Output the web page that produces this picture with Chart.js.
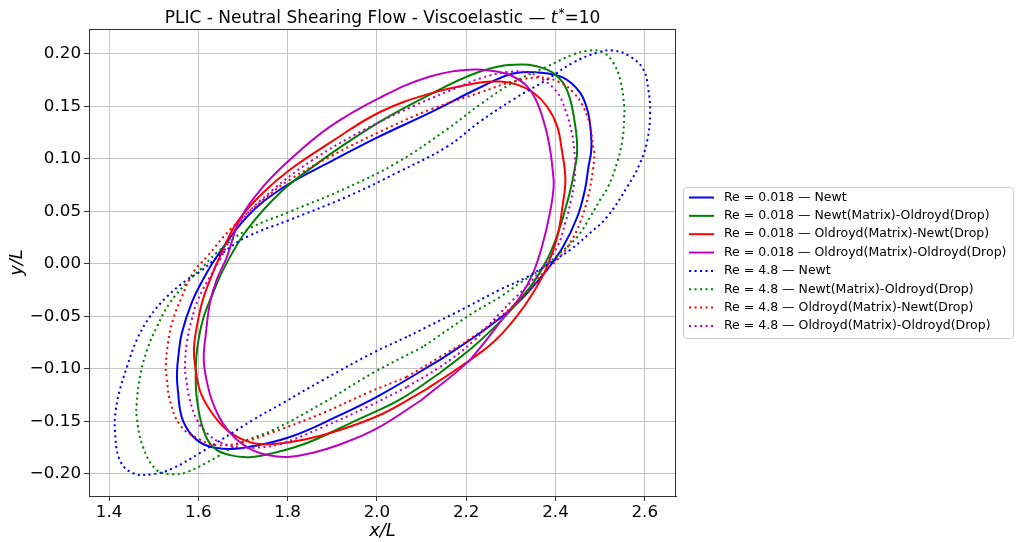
<!DOCTYPE html>
<html lang="en">
<head>
  <meta charset="UTF-8">
  <title>PLIC - Neutral Shearing Flow - Viscoelastic</title>
  <script src="https://cdn.jsdelivr.net/npm/chart.js"></script>
  <style>
    body { margin: 0; background: #fff; }
    #wrap { width: 1019px; height: 542px; }
  </style>
</head>
<body>
<div id="wrap"><canvas id="chart" width="1019" height="542"></canvas></div>

<script>
  // Axis ticks
  const xTicks = [1.4, 1.6, 1.8, 2.0, 2.2, 2.4, 2.6];
  const xTickLabels = ["1.4", "1.6", "1.8", "2.0", "2.2", "2.4", "2.6"];
  const yTicks = [-0.20, -0.15, -0.10, -0.05, 0.00, 0.05, 0.10, 0.15, 0.20];
  const yTickLabels = ["\u22120.20", "\u22120.15", "\u22120.10", "\u22120.05", "0.00", "0.05", "0.10", "0.15", "0.20"];

  const seriesLabels = [
    "Re = 0.018 \u2014 Newt",
    "Re = 0.018 \u2014 Newt(Matrix)-Oldroyd(Drop)",
    "Re = 0.018 \u2014 Oldroyd(Matrix)-Newt(Drop)",
    "Re = 0.018 \u2014 Oldroyd(Matrix)-Oldroyd(Drop)",
    "Re = 4.8 \u2014 Newt",
    "Re = 4.8 \u2014 Newt(Matrix)-Oldroyd(Drop)",
    "Re = 4.8 \u2014 Oldroyd(Matrix)-Newt(Drop)",
    "Re = 4.8 \u2014 Oldroyd(Matrix)-Oldroyd(Drop)"
  ];

  // Interface contours [x/L, y/L]
  const re018Newt = [
    [2.480, 0.121], [2.480, 0.107], [2.474, 0.0925], [2.466, 0.0705], [2.449, 0.0448],
    [2.417, 0.0162], [2.381, -0.0057], [2.337, -0.0276], [2.298, -0.0439], [2.231, -0.0658],
    [2.141, -0.0915], [2.007, -0.1249], [1.917, -0.144], [1.805, -0.1649], [1.709, -0.1745],
    [1.641, -0.1754], [1.597, -0.1678], [1.565, -0.1487], [1.554, -0.1201], [1.552, -0.1039],
    [1.556, -0.085], [1.563, -0.0658], [1.585, -0.0372], [1.610, -0.0153], [1.641, 0.0067],
    [1.709, 0.0448], [1.789, 0.0724], [1.895, 0.097], [2.000, 0.1201], [2.119, 0.1439],
    [2.231, 0.1678], [2.305, 0.1811], [2.361, 0.1821], [2.417, 0.1773], [2.455, 0.163],
    [2.473, 0.1439]
  ];
  const re018NewtOld = [
    [2.448, 0.118], [2.448, 0.103], [2.444, 0.0925], [2.436, 0.075], [2.426, 0.0582],
    [2.406, 0.0296], [2.381, 0.0038], [2.350, -0.0181], [2.314, -0.0372], [2.276, -0.055],
    [2.215, -0.0791], [2.141, -0.1039], [2.052, -0.129], [1.955, -0.1487], [1.843, -0.1706],
    [1.767, -0.1802], [1.715, -0.184], [1.671, -0.1821], [1.633, -0.1745], [1.610, -0.1563],
    [1.597, -0.1296], [1.594, -0.1077], [1.597, -0.082], [1.610, -0.0534], [1.633, -0.0276],
    [1.659, -0.0029], [1.709, 0.0324], [1.783, 0.0677], [1.857, 0.0925], [1.933, 0.1153],
    [2.007, 0.1354], [2.097, 0.1563], [2.231, 0.183], [2.321, 0.1897], [2.381, 0.1849],
    [2.415, 0.1735], [2.433, 0.1563], [2.443, 0.135]
  ];
  const re018OldNewt = [
    [2.421, 0.089], [2.422, 0.076], [2.417, 0.0582], [2.404, 0.0257], [2.381, -0.0029],
    [2.350, -0.0276], [2.314, -0.0496], [2.260, -0.075], [2.186, -0.0982], [2.112, -0.119],
    [2.014, -0.1425], [1.917, -0.1582], [1.843, -0.1668], [1.767, -0.1716], [1.715, -0.1697],
    [1.664, -0.1582], [1.626, -0.1392], [1.603, -0.1201], [1.592, -0.0944], [1.590, -0.082],
    [1.594, -0.0658], [1.608, -0.0372], [1.626, -0.0153], [1.648, 0.0067], [1.686, 0.0391],
    [1.745, 0.0677], [1.805, 0.0896], [1.895, 0.1153], [2.007, 0.1445], [2.119, 0.162],
    [2.231, 0.1725], [2.276, 0.1735], [2.314, 0.1706], [2.350, 0.163], [2.381, 0.1497],
    [2.404, 0.1306], [2.415, 0.106]
  ];
  const re018OldOld = [
    [2.394, 0.088], [2.396, 0.074], [2.390, 0.054], [2.372, 0.020], [2.350, -0.0086],
    [2.321, -0.0315], [2.292, -0.0467], [2.231, -0.080], [2.200, -0.095], [2.100, -0.1296],
    [2.000, -0.1567], [1.917, -0.1720], [1.855, -0.1800], [1.800, -0.1838], [1.755, -0.1820],
    [1.720, -0.1770], [1.685, -0.1670], [1.655, -0.1520], [1.632, -0.1320], [1.618, -0.1100],
    [1.612, -0.0896], [1.617, -0.0658], [1.626, -0.0372], [1.641, -0.0153], [1.664, 0.0067],
    [1.693, 0.0419], [1.745, 0.0734], [1.805, 0.0991], [1.895, 0.1306], [2.007, 0.1582],
    [2.119, 0.1783], [2.215, 0.1849], [2.269, 0.183], [2.305, 0.1783], [2.337, 0.1687],
    [2.359, 0.1535], [2.377, 0.1306], [2.388, 0.1087]
  ];
  const re48Newt = [
    [2.612, 0.1439], [2.606, 0.1182], [2.590, 0.0963], [2.561, 0.0734], [2.516, 0.0448],
    [2.478, 0.0296], [2.433, 0.0133], [2.388, 0.001], [2.337, -0.0124], [2.276, -0.0245],
    [2.202, -0.041], [2.067, -0.0696], [1.991, -0.0848], [1.879, -0.1106], [1.789, -0.1325],
    [1.722, -0.1487], [1.603, -0.1802], [1.543, -0.1945], [1.498, -0.2002], [1.453, -0.1992],
    [1.424, -0.1868], [1.413, -0.1582], [1.415, -0.1392], [1.424, -0.1201], [1.440, -0.0982],
    [1.462, -0.0724], [1.491, -0.0505], [1.529, -0.0315], [1.574, -0.0153], [1.603, -0.0076],
    [1.655, 0.0105], [1.709, 0.0257], [1.805, 0.0419], [1.933, 0.0639], [2.045, 0.0867],
    [2.157, 0.1115], [2.231, 0.1354], [2.305, 0.1563], [2.381, 0.1754], [2.440, 0.1916],
    [2.494, 0.2011], [2.529, 0.2031], [2.567, 0.1973], [2.597, 0.1849], [2.608, 0.1659]
  ];
  const re48NewtOld = [
    [2.554, 0.1401], [2.550, 0.1182], [2.538, 0.0963], [2.518, 0.0734], [2.500, 0.061],
    [2.478, 0.0448], [2.449, 0.0257], [2.411, 0.0105], [2.366, -0.0057], [2.321, -0.0181],
    [2.276, -0.0315], [2.215, -0.0467], [2.103, -0.0791], [1.991, -0.1039], [1.879, -0.1325],
    [1.767, -0.1582], [1.693, -0.1706], [1.641, -0.184], [1.574, -0.1983], [1.543, -0.2002],
    [1.507, -0.1964], [1.476, -0.1745], [1.462, -0.1459], [1.462, -0.1325], [1.469, -0.1077],
    [1.485, -0.082], [1.507, -0.0601], [1.536, -0.0372], [1.574, -0.0181], [1.610, -0.0029],
    [1.641, 0.0105], [1.709, 0.0324], [1.805, 0.0496], [1.933, 0.0724], [2.045, 0.0963],
    [2.157, 0.128], [2.231, 0.1516], [2.305, 0.1725], [2.381, 0.1878], [2.440, 0.1992],
    [2.478, 0.2031], [2.507, 0.2011], [2.529, 0.1916], [2.545, 0.1754], [2.554, 0.1497]
  ];
  const re48OldNewt = [
    [2.487, 0.1058], [2.484, 0.0896], [2.473, 0.0639], [2.455, 0.0391], [2.433, 0.020],
    [2.404, 0.0038], [2.372, -0.0086], [2.343, -0.0248], [2.314, -0.0372], [2.215, -0.0696],
    [2.141, -0.0887], [2.067, -0.1077], [1.978, -0.123], [1.879, -0.142], [1.767, -0.1602],
    [1.693, -0.1706], [1.641, -0.1725], [1.597, -0.1659], [1.559, -0.1535], [1.536, -0.1296],
    [1.529, -0.1077], [1.527, -0.0982], [1.532, -0.0753], [1.543, -0.0534], [1.563, -0.0315],
    [1.588, -0.0086], [1.619, 0.0067], [1.671, 0.0324], [1.745, 0.061], [1.805, 0.0801],
    [1.895, 0.102], [2.007, 0.1258], [2.119, 0.1468], [2.231, 0.163], [2.305, 0.1735],
    [2.366, 0.1773], [2.411, 0.1725], [2.440, 0.163], [2.462, 0.1497], [2.478, 0.1306],
    [2.484, 0.1115]
  ];
  const re48OldOld = [
    [2.444, 0.0925], [2.442, 0.0772], [2.435, 0.061], [2.422, 0.0391], [2.404, 0.0162],
    [2.372, -0.0029], [2.343, -0.0181], [2.305, -0.0343], [2.276, -0.0467], [2.215, -0.074],
    [2.141, -0.0982], [2.067, -0.1173], [1.978, -0.1363], [1.879, -0.1554], [1.783, -0.1715],
    [1.730, -0.175], [1.693, -0.175], [1.648, -0.1697], [1.619, -0.1611], [1.597, -0.1487],
    [1.581, -0.1296], [1.572, -0.1077], [1.570, -0.0982], [1.574, -0.0753], [1.585, -0.0534],
    [1.599, -0.0343], [1.626, -0.0124], [1.648, 0.0038], [1.693, 0.0391], [1.767, 0.0705],
    [1.857, 0.0991], [1.969, 0.127], [2.081, 0.150], [2.193, 0.170], [2.231, 0.1765],
    [2.292, 0.1825], [2.337, 0.1821], [2.372, 0.1754], [2.404, 0.163], [2.422, 0.1468],
    [2.435, 0.1277], [2.442, 0.1087]
  ];

  const contours = [re018Newt, re018NewtOld, re018OldNewt, re018OldOld, re48Newt, re48NewtOld, re48OldNewt, re48OldOld];
  const colors = ["#0000ff", "#008000", "#ff0000", "#bf00bf", "#0000ff", "#008000", "#ff0000", "#bf00bf"];
  const dotted = [false, false, false, false, true, true, true, true];

  const FONT = '"DejaVu Sans", sans-serif';
  const DOTS = [2.1, 3.4];
  Chart.defaults.font.family = FONT;
  Chart.defaults.color = "#000";

  // start each loop on the long, nearly straight lower arc so the join does not show
  function closeLoop(pts) {
    let k = -1;
    pts.forEach((p, i) => {
      if (p[1] < 0 && (k < 0 || Math.abs(p[0] - 2.1) < Math.abs(pts[k][0] - 2.1))) k = i;
    });
    const r = pts.slice(k).concat(pts.slice(0, k));
    return r.concat([r[0]]).map(p => ({ x: p[0], y: p[1] }));
  }

  const datasets = contours.map((pts, i) => ({
    label: seriesLabels[i],
    data: closeLoop(pts),
    showLine: true,
    borderColor: colors[i],
    backgroundColor: colors[i],
    borderWidth: 2,
    borderDash: dotted[i] ? DOTS : [],
    pointRadius: 0,
    tension: 0.4,
    fill: false,
    order: contours.length - i // later series drawn on top
  }));

  // spines, legend and title drawn by hand
  const decorations = {
    id: "decorations",
    afterDraw(chart) {
      const { ctx, chartArea: a } = chart;
      ctx.save();
      ctx.setLineDash([]);

      // frame (top and right spines; left/bottom come from the axes)
      const L = Math.round(a.left), R = Math.round(a.right);
      const T = Math.round(a.top), B = Math.round(a.bottom);
      ctx.fillStyle = "#333333";
      ctx.fillRect(L, T, R - L, 1);
      ctx.fillRect(R - 1, T, 1, B - T);

      // title with italic t and superscript *
      const size = 17;
      const p1 = "PLIC - Neutral Shearing Flow - Viscoelastic \u2014 ";
      const p3 = "=10";
      ctx.font = `${size}px ${FONT}`;
      const w1 = ctx.measureText(p1).width, w3 = ctx.measureText(p3).width;
      ctx.font = `italic ${size}px ${FONT}`;
      const wt = ctx.measureText("t").width;
      ctx.font = `${size * 0.7}px ${FONT}`;
      const ws = ctx.measureText("*").width;
      let x = (a.left + a.right) / 2 - (w1 + wt + ws + w3 + 1) / 2;
      const base = 23;
      ctx.fillStyle = "#000";
      ctx.textBaseline = "alphabetic";
      ctx.textAlign = "left";
      ctx.font = `${size}px ${FONT}`;
      ctx.fillText(p1, x, base); x += w1;
      ctx.font = `italic ${size}px ${FONT}`;
      ctx.fillText("t", x, base); x += wt + 1;
      ctx.font = `${size * 0.7}px ${FONT}`;
      ctx.fillText("*", x, base - 6); x += ws;
      ctx.font = `${size}px ${FONT}`;
      ctx.fillText(p3, x, base);

      // legend box
      const rowH = 18.35, boxW = 330, boxH = 151;
      const bx = a.right + 7, by = (a.top + a.bottom) / 2 - boxH / 2;
      ctx.beginPath();
      ctx.roundRect(bx + 0.5, by + 0.5, boxW, boxH, 3);
      ctx.fillStyle = "rgba(255,255,255,0.8)";
      ctx.fill();
      ctx.strokeStyle = "#cccccc";
      ctx.lineWidth = 1;
      ctx.stroke();

      ctx.font = `12.5px ${FONT}`;
      ctx.textBaseline = "middle";
      chart.data.datasets.forEach((ds, i) => {
        const y = by + 10.5 + i * rowH;
        ctx.beginPath();
        ctx.setLineDash(ds.borderDash);
        ctx.strokeStyle = ds.borderColor;
        ctx.lineWidth = ds.borderWidth;
        ctx.moveTo(bx + 6, y);
        ctx.lineTo(bx + 31, y);
        ctx.stroke();
        ctx.setLineDash([]);
        ctx.fillStyle = "#000";
        ctx.fillText(ds.label, bx + 41, y);
      });
      ctx.restore();
    }
  };

  const gridStyle = { color: "#c4c4c4", lineWidth: 1, tickLength: 5, tickColor: "#333", drawTicks: true };

  new Chart(document.getElementById("chart").getContext("2d"), {
    type: "scatter",
    data: { datasets },
    options: {
      responsive: false,
      animation: false,
      devicePixelRatio: 1,
      layout: { padding: { left: 0, top: 29, right: 343, bottom: 0 } },
      plugins: {
        legend: { display: false },
        tooltip: { enabled: false },
        title: { display: false }
      },
      scales: {
        x: {
          type: "linear",
          min: 1.355,
          max: 2.670,
          afterBuildTicks: s => { s.ticks = xTicks.map(v => ({ value: v })); },
          afterFit: s => { s.height = 46; },
          ticks: {
            callback: (v, i) => xTickLabels[i],
            font: { size: 16.7 },
            color: "#000",
            padding: 2,
            autoSkip: false,
            maxRotation: 0
          },
          grid: gridStyle,
          border: { display: true, color: "#333", width: 1 },
          title: {
            display: true,
            text: "x/L",
            font: { size: 18, style: "italic" },
            color: "#000",
            padding: { top: 0, bottom: 0 }
          }
        },
        y: {
          type: "linear",
          min: -0.221,
          max: 0.2235,
          afterBuildTicks: s => { s.ticks = yTicks.map(v => ({ value: v })); },
          afterFit: s => { s.width = 89; },
          ticks: {
            callback: (v, i) => yTickLabels[i],
            font: { size: 16.7 },
            color: "#000",
            padding: 3,
            autoSkip: false
          },
          grid: gridStyle,
          border: { display: true, color: "#333", width: 1 },
          title: {
            display: true,
            text: "y/L",
            font: { size: 18, style: "italic" },
            color: "#000",
            padding: { top: 7, bottom: 0 }
          }
        }
      }
    },
    plugins: [decorations]
  });
</script>
</body>
</html>
